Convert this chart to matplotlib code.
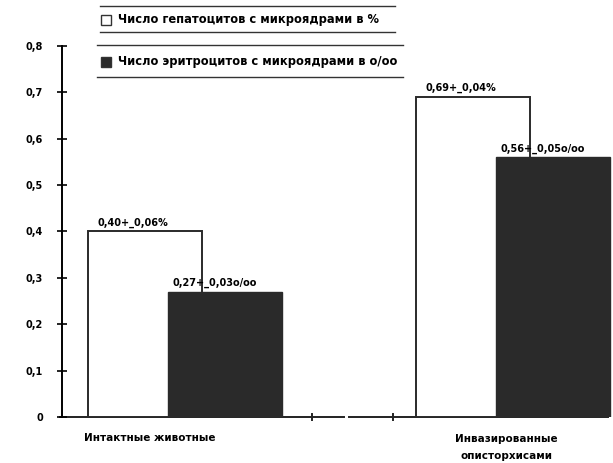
import numpy as np
import matplotlib
matplotlib.use("Agg")
import matplotlib.pyplot as plt
from matplotlib.lines import Line2D
from matplotlib.patches import Rectangle

plt.rcParams.update({"font.family": "DejaVu Sans", "font.weight": "bold"})

groups = ["Интактные животные", "Инвазированные\nописторхисами"]
hepatocytes = [0.40, 0.69]
erythrocytes = [0.27, 0.56]
hep_labels = ["0,40+_0,06%", "0,69+_0,04%"]
ery_labels = ["0,27+_0,03о/оо", "0,56+_0,05о/оо"]
legend_labels = ["Число гепатоцитов с микроядрами в %",
                 "Число эритроцитов с микроядрами в о/оо"]
yticks = [0, 0.1, 0.2, 0.3, 0.4, 0.5, 0.6, 0.7, 0.8]

W, H = 613, 463
fig = plt.figure(figsize=(W / 100, H / 100), dpi=100)
ax = fig.add_axes([62 / W, 1 - 417 / H, 1 - 62 / W, (417 - 46) / H])

x = np.arange(len(groups))
width = 0.35
off = 0.122
dark = "#2a2a2a"

ax.bar(x - off, hepatocytes, width, color="white", edgecolor="#2a2a2a",
       linewidth=1.4, zorder=2)
ax.bar(x + off, erythrocytes, width, color=dark, edgecolor=dark,
       linewidth=1.0, zorder=3)

for i in range(len(groups)):
    ax.text(x[i] - off - width / 2 + 0.03, hepatocytes[i] + 0.008, hep_labels[i],
            ha="left", va="bottom", fontsize=7, zorder=4)
    ax.text(x[i] + off - width / 2 + 0.015, erythrocytes[i] + 0.008, ery_labels[i],
            ha="left", va="bottom", fontsize=7, zorder=4)

ax.set_xlim(-0.375, 1.305)
ax.set_ylim(0, 0.8)
ax.set_yticks(yticks)
ax.set_yticklabels([f"{t:.1f}".replace(".", ",") if t else "0" for t in yticks],
                   fontsize=7)
ax.tick_params(axis="y", direction="inout", length=7, width=1.2, pad=10)
ax.set_xticks([])
for s in ["top", "right", "bottom"]:
    ax.spines[s].set_visible(False)
ax.spines["left"].set_linewidth(1.4)

# broken category axis with its two small ticks
axis_kw = dict(color="#222222", lw=1.4, clip_on=False, zorder=1)
ax.plot([-0.38, 0.485], [0, 0], **axis_kw)
ax.plot([0.50, 1.29], [0, 0], **axis_kw)
for xt in [0.387, 0.634]:
    ax.plot([xt, xt], [-0.007, 0.007], **axis_kw)

# category labels
ax.text(-0.107, -0.045, groups[0], ha="center", va="center", fontsize=7.5)
ax.text(0.98, -0.066, groups[1], ha="center", va="center", fontsize=7.5,
        linespacing=1.9)

# legend drawn as two ruled rows above the plot
def hline(x0, x1, y):
    fig.add_artist(Line2D([x0 / W, x1 / W], [1 - y / H, 1 - y / H],
                          color="#333333", lw=1.0))

hline(100, 395, 6)
hline(100, 395, 32)
hline(97, 403, 45)
hline(97, 403, 77)
for y, fc, lab in [(20, "white", legend_labels[0]), (62, dark, legend_labels[1])]:
    fig.add_artist(Rectangle((101 / W, 1 - (y + 5) / H), 10 / W, 10 / H,
                             facecolor=fc, edgecolor="#333333", lw=1.0))
    fig.text(118 / W, 1 - y / H, lab, ha="left", va="center", fontsize=8.3)

fig.savefig("out.png", dpi=100)
